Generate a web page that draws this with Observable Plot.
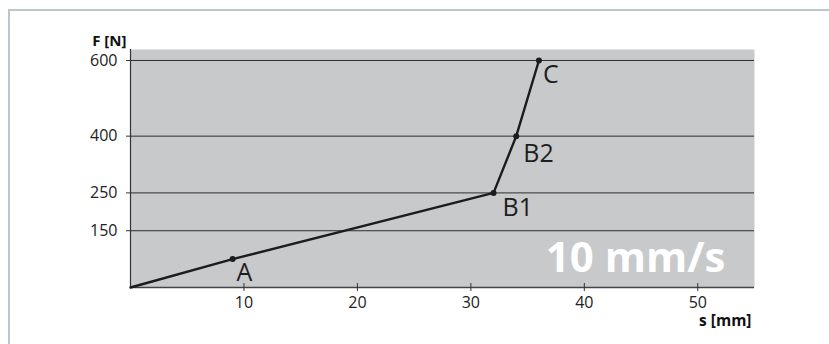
<!DOCTYPE html>
<html>
<head>
<meta charset="utf-8">
<script src="https://cdn.jsdelivr.net/npm/d3@7"></script>
<script src="https://cdn.jsdelivr.net/npm/@observablehq/plot@0.6"></script>
<style>
  html, body { margin: 0; padding: 0; background: #fff; }
  #wrap { position: relative; width: 829px; height: 344px; overflow: hidden; }
  #frame { position: absolute; left: 8px; top: 9px; right: 0; bottom: 0;
           border-top: 2px solid #bcc6cb; border-left: 2px solid #bcc6cb; }
  #chart { position: absolute; left: 0; top: 0; }
</style>
</head>
<body>
<div id="wrap"><div id="frame"></div><div id="chart"></div></div>
<script>
// Data
const pointLabels = ["", "A", "B1", "B2", "C"];
const sValues = [0, 9, 32, 34, 36];      // s [mm]
const fValues = [0, 75, 250, 400, 600];  // F [N]
const yTicks = [150, 250, 400, 600];
const xTicks = [10, 20, 30, 40, 50];
const speedLabel = "10 mm/s";
const yLabel = "F [N]";
const xLabel = "s [mm]";

const pts = sValues.map((s, i) => ({s, f: fValues[i], label: pointLabels[i]}));
const marked = pts.filter(d => d.label !== "");

const labelOffsets = {A: [4, 14], B1: [9, 15], B2: [7, 18], C: [4, 15]};
const FONT = "'Open Sans', sans-serif";

const chart = Plot.plot({
  width: 829,
  height: 344,
  marginLeft: 130,
  marginRight: 75,
  marginTop: 49,
  marginBottom: 57,
  x: {domain: [0, 55]},
  y: {domain: [0, 629]},
  style: {fontFamily: FONT, background: "transparent", color: "#222"},
  marks: [
    Plot.frame({fill: "#c8c9cb", stroke: null}),
    Plot.ruleY(yTicks, {stroke: "#2e2e2e", strokeWidth: 1}),
    Plot.ruleX([0], {stroke: "#333", strokeWidth: 1.2}),
    Plot.ruleY([0], {stroke: "#444", strokeWidth: 1.5}),
    Plot.axisY({ticks: yTicks, tickSize: 4, text: null, label: null, stroke: "#333"}),
    Plot.axisX({ticks: xTicks, tickSize: 8, dy: -4, text: null, label: null, stroke: "#333"}),
    Plot.text(yTicks.map(String), {y: d => +d, frameAnchor: "left", textAnchor: "end", dx: -13,
      fontSize: "16px", fill: "#222"}),
    Plot.text(xTicks.map(String), {x: d => +d, frameAnchor: "bottom", dy: 20,
      fontSize: "16px", fill: "#222"}),
    Plot.line(pts, {x: "s", y: "f", stroke: "#1c1c1c", strokeWidth: 2.4}),
    Plot.dot(marked, {x: "s", y: "f", r: 3, fill: "#1c1c1c"}),
    ...marked.map(d => Plot.text([d], {x: "s", y: "f", text: "label", textAnchor: "start",
      dx: labelOffsets[d.label][0], dy: labelOffsets[d.label][1], fontSize: 25, fill: "#1e1e1e"})),
    Plot.text([speedLabel], {frameAnchor: "bottom-right", textAnchor: "end", lineAnchor: "bottom",
      dx: -29, dy: -16, fontSize: 42, fontWeight: "bold", fill: "#ffffff"}),
    Plot.text([yLabel], {frameAnchor: "top-left", textAnchor: "end", dx: -4, dy: -14,
      fontSize: 15, fontWeight: "bold", fill: "#111"}),
    Plot.text([xLabel], {frameAnchor: "bottom-right", textAnchor: "end", dx: -3, dy: 38,
      fontSize: 15.5, fontWeight: "bold", fill: "#111"})
  ]
});
document.getElementById("chart").appendChild(chart);
</script>
</body>
</html>
